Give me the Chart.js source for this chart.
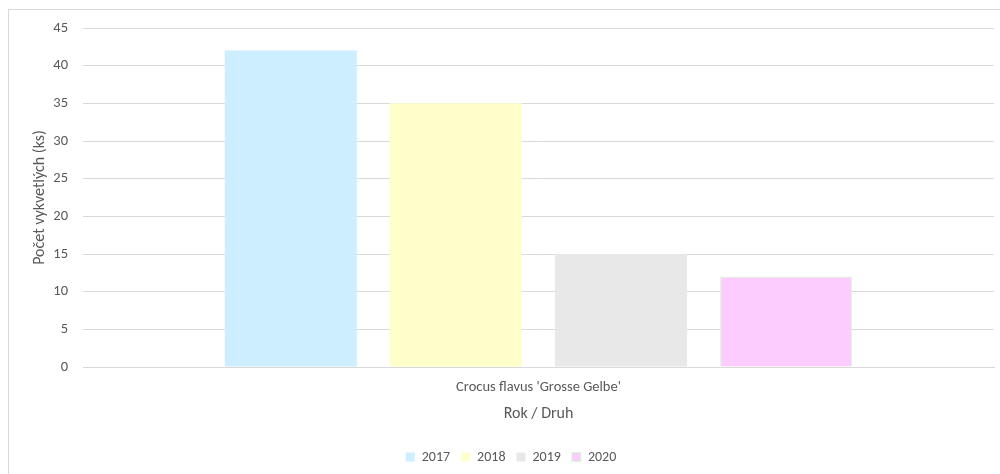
<!DOCTYPE html>
<html>
<head>
<meta charset="utf-8">
<title>Crocus flavus</title>
<script src="https://cdn.jsdelivr.net/npm/chart.js@4/dist/chart.umd.min.js"></script>
<style>
	html, body { margin: 0; padding: 0; background: #fff; overflow: hidden; }
	#frame { position: absolute; left: 8px; top: 9px; width: 1010px; height: 490px; border: 1px solid #d9d9d9; }
	#chart { position: absolute; left: 0; top: 0; }
</style>
</head>
<body>
<div id="frame"></div>
<canvas id="chart" width="1000" height="474"></canvas>
<script>
// data
const categories = ["Crocus flavus 'Grosse Gelbe'"];
const years = ['2017', '2018', '2019', '2020'];
const counts = [42, 35, 15, 12];
const fillColors = ['#cdeeff', '#ffffcc', '#e8e8e8', '#fccbff'];
const edgeColors = ['#cdeeff', '#ffffcc', '#e8e8e8', '#ccffcc'];
const yTicks = [0, 5, 10, 15, 20, 25, 30, 35, 40, 45];

const textColor = '#595959';
const fontFamily = "Carlito, Lato, 'Open Sans', sans-serif";

Chart.defaults.font.family = fontFamily;
Chart.defaults.color = textColor;

const datasets = [];
for(let i = 0; i < years.length; i++)
{
	datasets.push({
		label: years[i],
		data: [counts[i]],
		backgroundColor: fillColors[i],
		borderColor: edgeColors[i],
		borderWidth: i == 3 ? 1 : 0,
		barPercentage: 0.8,
		categoryPercentage: 0.725
	});
}

// nudge the legend a little right of the canvas centre
const legendShift = {
	id: 'legendShift',
	afterLayout: function(chart) {
		chart.legend.left += 14;
		chart.legend.right += 14;
	}
};

new Chart(document.getElementById('chart'), {
	type: 'bar',
	data: {
		labels: categories,
		datasets: datasets
	},
	plugins: [legendShift],
	options: {
		responsive: false,
		animation: false,
		layout: { padding: { left: 0, right: 6, top: 28, bottom: 0 } },
		plugins: {
			tooltip: { enabled: false },
			legend: {
				position: 'bottom',
				labels: {
					boxWidth: 9,
					boxHeight: 9,
					padding: 11,
					font: { size: 14 },
					color: textColor
				}
			}
		},
		scales: {
			x: {
				grid: { display: false },
				border: { color: '#d9d9d9' },
				ticks: { font: { size: 14.5 }, color: textColor, padding: 4 },
				title: {
					display: true,
					text: 'Rok / Druh',
					font: { size: 16, lineHeight: 1 },
					color: textColor,
					padding: { top: 6, bottom: 16.6 }
				}
			},
			y: {
				min: 0,
				max: 45,
				afterFit: function(scale) { scale.width = 83; },
				afterBuildTicks: function(scale) {
					scale.ticks = yTicks.map(function(v) { return { value: v }; });
				},
				grid: { color: '#d9d9d9', drawTicks: false },
				border: { display: false },
				ticks: { font: { size: 14.5 }, color: textColor, padding: 15 },
				title: {
					display: true,
					text: 'Počet vykvetlých (ks)',
					font: { size: 16 },
					color: textColor,
					padding: { top: 30, bottom: 0 }
				}
			}
		}
	}
});
</script>
</body>
</html>
